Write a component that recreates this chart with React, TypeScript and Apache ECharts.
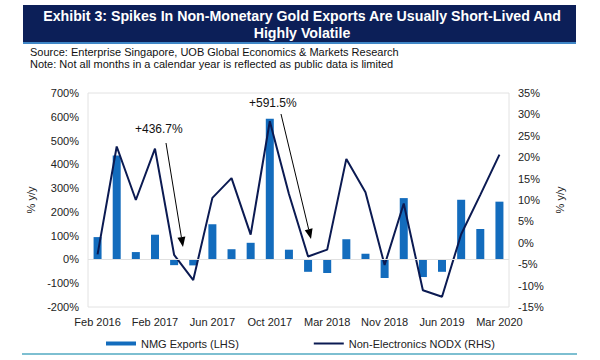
import React, { useEffect, useRef } from "react";
import * as echarts from "echarts";

const categories = [
  "Feb 2016", "Jun 2016", "Oct 2016", "Feb 2017", "Mar 2017", "Apr 2017",
  "Jun 2017", "Aug 2017", "Sep 2017", "Oct 2017", "Nov 2017", "Jan 2018",
  "Mar 2018", "Jun 2018", "Sep 2018", "Nov 2018", "Feb 2019", "Apr 2019",
  "Jun 2019", "Sep 2019", "Dec 2019", "Mar 2020",
];
const nmgExports = [
  94, 437, 31, 104, -24, -25, 148, 43, 70, 591.5, 41, -52,
  -57, 85, 24, -78, 258, -74, -52, 251, 128, 243,
];
const nodx = [
  -2.7, 22.5, 10.0, 22.0, -2.8, -8.7, 10.5, 15.1, 1.9, 28.4, 11.4, -3.2,
  -1.6, 19.6, 11.8, -5.2, 9.2, -11.1, -12.6, 2.0, 11.2, 20.6,
];
const leftTicks = { min: -200, max: 700, interval: 100 };
const rightTicks = { min: -15, max: 35, interval: 5 };
const titleLines = [
  "Exhibit 3: Spikes In Non-Monetary Gold Exports Are Usually Short-Lived And",
  "Highly Volatile",
];
const sourceLines = [
  "Source: Enterprise Singapore, UOB Global Economics & Markets Research",
  "Note: Not all months in a calendar year is reflected as public data is limited",
];
const annotations = ["+436.7%", "+591.5%"];

const FONT = "Liberation Sans, Arial, sans-serif";
const BAR = "#136cbd";
const LINE = "#0b1a52";

function arrow(x1: number, y1: number, x2: number, y2: number) {
  const dx = x2 - x1;
  const dy = y2 - y1;
  const len = Math.sqrt(dx * dx + dy * dy);
  const ux = dx / len;
  const uy = dy / len;
  const hl = 10;
  const hw = 4;
  const bx = x2 - ux * hl;
  const by = y2 - uy * hl;
  return [
    {
      type: "line",
      shape: { x1, y1, x2: bx, y2: by },
      style: { stroke: "#000", lineWidth: 1 },
      silent: true,
    },
    {
      type: "polygon",
      shape: {
        points: [
          [x2, y2],
          [bx - uy * hw, by + ux * hw],
          [bx + uy * hw, by - ux * hw],
        ],
      },
      style: { fill: "#000" },
      silent: true,
    },
  ];
}

export default function App() {
  const ref = useRef<HTMLDivElement>(null);
  useEffect(() => {
    document.body.style.margin = "0";
    if (!ref.current) return;
    const chart = echarts.init(ref.current, undefined, { renderer: "svg" });
    chart.setOption({
      animation: false,
      backgroundColor: "#fff",
      textStyle: { fontFamily: FONT },
      grid: {
        left: 88,
        right: 91,
        top: 93,
        bottom: 53,
        show: true,
        borderColor: "#e2e2e2",
        borderWidth: 1,
      },
      legend: {
        left: 101,
        top: 333,
        itemGap: 75,
        itemWidth: 30,
        itemHeight: 4,
        textStyle: { fontSize: 11, color: "#222", fontFamily: FONT },
        data: [
          { name: "NMG Exports (LHS)", icon: "rect" },
          {
            name: "Non-Electronics NODX (RHS)",
            icon: "path://M0 0 H30 V2 H0 Z",
          },
        ],
      },
      xAxis: {
        type: "category",
        data: categories,
        boundaryGap: true,
        axisLine: { show: false },
        axisTick: { show: false },
        axisLabel: {
          interval: 2,
          fontSize: 11,
          color: "#222",
          margin: 9,
          fontFamily: FONT,
        },
      },
      yAxis: [
        {
          type: "value",
          position: "left",
          min: leftTicks.min,
          max: leftTicks.max,
          interval: leftTicks.interval,
          name: "% y/y",
          nameLocation: "middle",
          nameGap: 50,
          nameRotate: 90,
          nameTextStyle: { fontSize: 11, color: "#222" },
          axisLine: { show: false },
          axisTick: { show: false },
          splitLine: { show: false },
          axisLabel: {
            formatter: "{value}%",
            fontSize: 11,
            color: "#222",
            margin: 9,
          },
        },
        {
          type: "value",
          position: "right",
          min: rightTicks.min,
          max: rightTicks.max,
          interval: rightTicks.interval,
          name: "% y/y",
          nameLocation: "middle",
          nameGap: 44,
          nameRotate: 90,
          nameTextStyle: { fontSize: 11, color: "#222" },
          axisLine: { show: false },
          axisTick: { show: false },
          splitLine: { show: false },
          axisLabel: {
            formatter: "{value}%",
            fontSize: 11,
            color: "#222",
            margin: 9,
          },
        },
      ],
      series: [
        {
          name: "NMG Exports (LHS)",
          type: "bar",
          yAxisIndex: 0,
          data: nmgExports,
          barWidth: 8,
          itemStyle: { color: BAR },
          markLine: {
            silent: true,
            symbol: ["none", "none"],
            label: { show: false },
            lineStyle: { color: "#e0e0e0", type: "solid", width: 1 },
            data: [{ yAxis: 0 }],
          },
          z: 2,
        },
        {
          name: "Non-Electronics NODX (RHS)",
          type: "line",
          yAxisIndex: 1,
          data: nodx,
          symbol: "none",
          lineStyle: { color: LINE, width: 2 },
          itemStyle: { color: LINE },
          z: 3,
        },
      ],
      graphic: [
        {
          type: "rect",
          shape: { x: 23, y: 5, width: 553, height: 38 },
          style: { fill: "#0c1f58" },
          silent: true,
        },
        {
          type: "rect",
          shape: { x: 23, y: 42, width: 553, height: 2 },
          style: { fill: "#3f86c6" },
          silent: true,
        },
        {
          type: "text",
          x: 302,
          y: 16,
          style: {
            text: titleLines[0],
            fill: "#fff",
            font: "bold 14.2px " + FONT,
            align: "center",
            verticalAlign: "middle",
          },
          silent: true,
        },
        {
          type: "text",
          x: 302,
          y: 33,
          style: {
            text: titleLines[1],
            fill: "#fff",
            font: "bold 14.2px " + FONT,
            align: "center",
            verticalAlign: "middle",
          },
          silent: true,
        },
        {
          type: "text",
          x: 30,
          y: 52,
          style: {
            text: sourceLines[0],
            fill: "#111",
            font: "11px " + FONT,
            verticalAlign: "middle",
          },
          silent: true,
        },
        {
          type: "text",
          x: 30,
          y: 64,
          style: {
            text: sourceLines[1],
            fill: "#111",
            font: "11px " + FONT,
            verticalAlign: "middle",
          },
          silent: true,
        },
        {
          type: "text",
          x: 135,
          y: 129,
          style: {
            text: annotations[0],
            fill: "#111",
            font: "12px " + FONT,
            verticalAlign: "middle",
          },
          silent: true,
        },
        {
          type: "text",
          x: 249,
          y: 103,
          style: {
            text: annotations[1],
            fill: "#111",
            font: "12px " + FONT,
            verticalAlign: "middle",
          },
          silent: true,
        },
        ...arrow(166, 143, 183, 247),
        ...arrow(281, 114, 311, 239),
        {
          type: "line",
          shape: { x1: 22, y1: 354, x2: 577, y2: 354 },
          style: { stroke: "#7dbfd1", lineWidth: 2 },
          silent: true,
        },
      ],
    });
    return () => chart.dispose();
  }, []);
  return <div ref={ref} style={{ width: 600, height: 360 }} />;
}
